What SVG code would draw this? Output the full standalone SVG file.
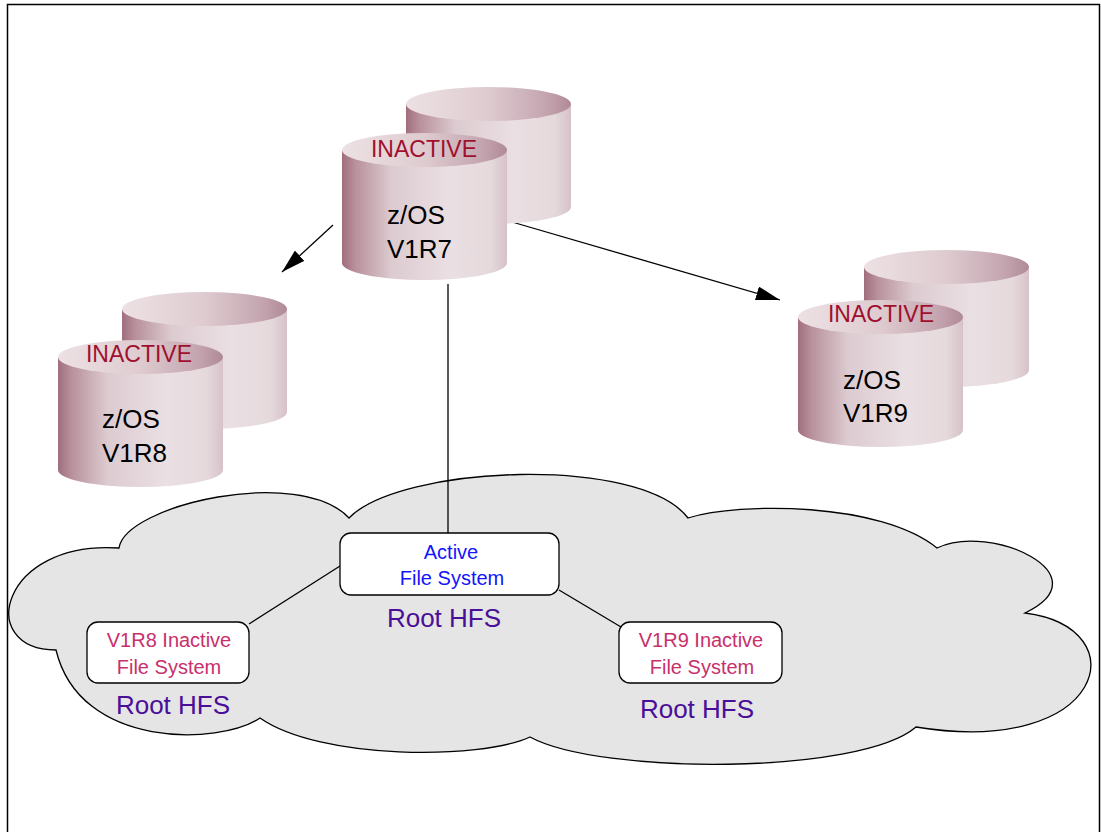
<svg xmlns="http://www.w3.org/2000/svg" width="1101" height="832" viewBox="0 0 1101 832">
  <defs>
    <!-- shading for the disk cylinders -->
    <linearGradient id="bodyShade" x1="0" y1="0" x2="1" y2="0">
      <stop offset="0" stop-color="#a06e7d"/>
      <stop offset="0.08" stop-color="#b8909b"/>
      <stop offset="0.3" stop-color="#dccbd0"/>
      <stop offset="0.65" stop-color="#eadfe2"/>
      <stop offset="0.9" stop-color="#e5d9dc"/>
      <stop offset="1" stop-color="#d6c2c8"/>
    </linearGradient>
    <linearGradient id="topShade" x1="0" y1="0" x2="1" y2="0">
      <stop offset="0" stop-color="#ede1e4"/>
      <stop offset="0.5" stop-color="#decbd0"/>
      <stop offset="0.85" stop-color="#c4a5af"/>
      <stop offset="1" stop-color="#b08997"/>
    </linearGradient>
    <!-- front disk: body 113 tall -->
    <g id="diskFront">
      <path d="M0,17 V130 A82.5,17 0 0 0 165,130 V17 Z" fill="url(#bodyShade)"/>
      <ellipse cx="82.5" cy="17" rx="82.5" ry="17" fill="url(#topShade)"/>
    </g>
    <!-- back disk: body 103 tall -->
    <g id="diskBack">
      <path d="M0,17 V120 A82.5,17 0 0 0 165,120 V17 Z" fill="url(#bodyShade)"/>
      <ellipse cx="82.5" cy="17" rx="82.5" ry="17" fill="url(#topShade)"/>
    </g>
    <marker id="arrow" viewBox="0 0 24 14" refX="24" refY="7" markerWidth="24" markerHeight="14" markerUnits="userSpaceOnUse" orient="auto">
      <path d="M0,0 L24,7 L0,14 Z" fill="#000"/>
    </marker>
    <style>
      .lbl { font-family: "Liberation Sans", Arial, sans-serif; }
      .inact { font-size: 23px; fill: #a0102e; text-anchor: middle; }
      .os { font-size: 26px; fill: #000; }
      .box { fill: #fff; stroke: #000; stroke-width: 1.3; }
      .act { font-size: 20px; fill: #1414ff; text-anchor: middle; }
      .fs { font-size: 20px; fill: #c8306c; text-anchor: middle; }
      .root { font-size: 26px; fill: #4a0f98; text-anchor: middle; }
      .conn { stroke: #000; stroke-width: 1.3; fill: none; }
    </style>
  </defs>

  <!-- page frame -->
  <path d="M7.5,832 V4.5 H1099.5 V832" fill="none" stroke="#000" stroke-width="1.5"/>

  <!-- shared storage cloud -->
  <g id="cloud">
    <path d="M56,650 C-25,650 0,540 119,548 C125,505 300,465 349,518 C400,465 640,455 688,518 C740,502 880,502 937,548 C990,522 1105,575 1025,613 C1140,628 1105,758 916,727 C860,775 600,775 530,737 C480,760 320,760 260,718 C220,745 80,750 56,650 Z" fill="#e5e5e5" stroke="#000" stroke-width="1.3"/>
  </g>

  <!-- connectors -->
  <g id="connectors">
    <line class="conn" x1="333" y1="225" x2="282" y2="272" marker-end="url(#arrow)"/>
    <line class="conn" x1="512" y1="222" x2="780" y2="300" marker-end="url(#arrow)"/>
    <line class="conn" x1="448" y1="284" x2="448" y2="533"/>
    <line class="conn" x1="340" y1="566" x2="249" y2="624"/>
    <line class="conn" x1="559" y1="590" x2="621" y2="627"/>
  </g>

  <!-- z/OS V1R7 disks -->
  <g id="disk-v1r7">
    <use href="#diskBack" x="406" y="87"/>
    <use href="#diskFront" x="342" y="133"/>
    <text class="lbl inact" x="424" y="157">INACTIVE</text>
    <text class="lbl os" x="387" y="224">z/OS</text>
    <text class="lbl os" x="387" y="258">V1R7</text>
  </g>

  <!-- z/OS V1R8 disks -->
  <g id="disk-v1r8">
    <use href="#diskBack" x="122" y="292"/>
    <use href="#diskFront" x="58" y="340"/>
    <text class="lbl inact" x="139" y="362">INACTIVE</text>
    <text class="lbl os" x="102" y="428">z/OS</text>
    <text class="lbl os" x="102" y="462">V1R8</text>
  </g>

  <!-- z/OS V1R9 disks -->
  <g id="disk-v1r9">
    <use href="#diskBack" x="864" y="250"/>
    <use href="#diskFront" x="798" y="300"/>
    <text class="lbl inact" x="881" y="322">INACTIVE</text>
    <text class="lbl os" x="843" y="389">z/OS</text>
    <text class="lbl os" x="843" y="422">V1R9</text>
  </g>

  <!-- active root file system -->
  <g id="fs-active">
    <rect class="box" x="340" y="533" width="219" height="62" rx="11"/>
    <text class="lbl act" x="451" y="559">Active</text>
    <text class="lbl act" x="452" y="585">File System</text>
    <text class="lbl root" x="444" y="627">Root HFS</text>
  </g>

  <!-- V1R8 inactive root file system -->
  <g id="fs-v1r8">
    <rect class="box" x="87" y="622" width="162" height="61" rx="11"/>
    <text class="lbl fs" x="169" y="647">V1R8 Inactive</text>
    <text class="lbl fs" x="169" y="674">File System</text>
    <text class="lbl root" x="173" y="714">Root HFS</text>
  </g>

  <!-- V1R9 inactive root file system -->
  <g id="fs-v1r9">
    <rect class="box" x="619" y="622" width="163" height="61" rx="11"/>
    <text class="lbl fs" x="701" y="647">V1R9 Inactive</text>
    <text class="lbl fs" x="702" y="674">File System</text>
    <text class="lbl root" x="697" y="718">Root HFS</text>
  </g>
</svg>
